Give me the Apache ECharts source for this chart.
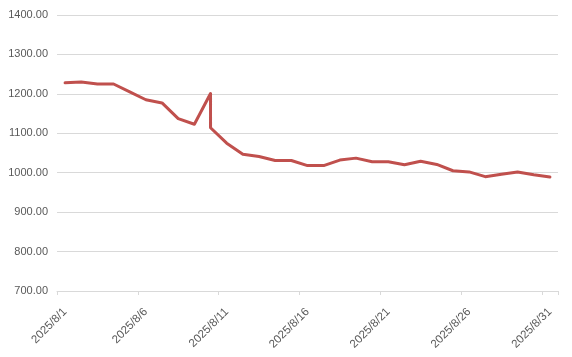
<!DOCTYPE html>
<html>
<head>
<meta charset="utf-8">
<script src="https://cdn.jsdelivr.net/npm/echarts@6/dist/echarts.min.js"></script>
<style>
html,body{margin:0;padding:0;background:#fff;}
#chart{width:572px;height:357px;}
</style>
</head>
<body>
<div id="chart"></div>
<script>
// Point dates (2025/8/10 appears twice: a same-day vertical drop)
const pointDates = [
  '2025/8/1','2025/8/2','2025/8/3','2025/8/4','2025/8/5','2025/8/6','2025/8/7','2025/8/8','2025/8/9',
  '2025/8/10','2025/8/10',
  '2025/8/11','2025/8/12','2025/8/13','2025/8/14','2025/8/15','2025/8/16','2025/8/17','2025/8/18',
  '2025/8/19','2025/8/20','2025/8/21','2025/8/22','2025/8/23','2025/8/24','2025/8/25','2025/8/26',
  '2025/8/27','2025/8/28','2025/8/29','2025/8/30','2025/8/31'
];
const values = [
  1228, 1230, 1225, 1225, 1205, 1185, 1177, 1137, 1123,
  1201, 1114,
  1075, 1047, 1041, 1031, 1031, 1018, 1018, 1032,
  1037, 1028, 1028, 1020, 1029, 1021, 1005, 1002,
  990, 996, 1002, 995, 989
];
const yTicks = [700, 800, 900, 1000, 1100, 1200, 1300, 1400];

const categories = pointDates.filter((d, i) => pointDates.indexOf(d) === i);
const seriesData = pointDates.map((d, i) => [d, values[i]]);

const chart = echarts.init(document.getElementById('chart'), null, {renderer: 'canvas'});
const font = '"Liberation Sans", Arial, sans-serif';
chart.setOption({
  animation: false,
  backgroundColor: '#ffffff',
  grid: {left: 57, right: 14, top: 15, bottom: 66, containLabel: false},
  xAxis: {
    type: 'category',
    data: categories,
    boundaryGap: true,
    axisLine: {show: true, lineStyle: {color: '#d9d9d9', width: 1}},
    axisTick: {show: true, interval: 4, length: 4, lineStyle: {color: '#d9d9d9'}},
    axisLabel: {
      interval: 4, rotate: 45, margin: 19,
      color: '#595959', fontSize: 11.5, fontFamily: font
    },
    splitLine: {show: false}
  },
  yAxis: {
    type: 'value',
    min: yTicks[0], max: yTicks[yTicks.length - 1], interval: 100,
    axisLine: {show: false},
    axisTick: {show: false},
    axisLabel: {
      color: '#595959', fontSize: 11, fontFamily: font, margin: 9,
      formatter: v => v.toFixed(2)
    },
    splitLine: {show: true, lineStyle: {color: '#d9d9d9', width: 1}}
  },
  series: [{
    type: 'line',
    data: seriesData,
    showSymbol: false,
    symbol: 'none',
    lineStyle: {color: '#c0504d', width: 3, join: 'round', cap: 'round'},
    itemStyle: {color: '#c0504d'}
  }]
});
</script>
</body>
</html>
